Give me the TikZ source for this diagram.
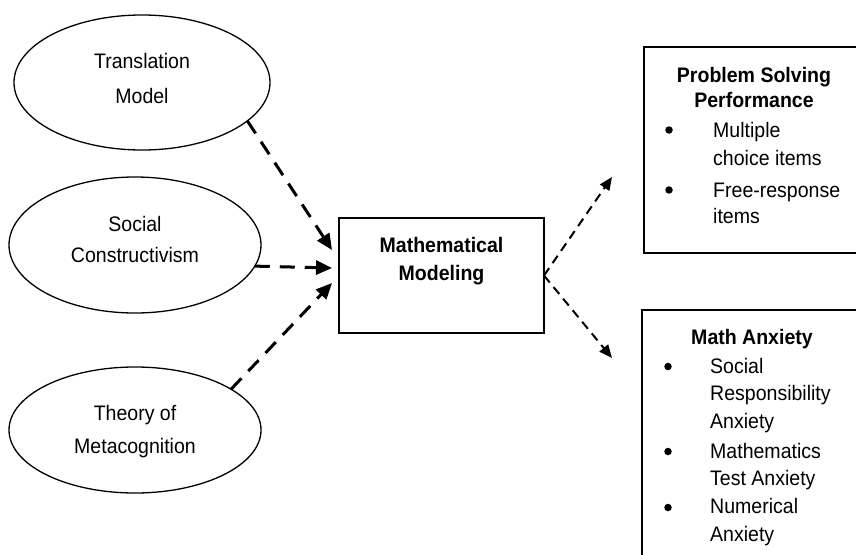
\documentclass[tikz,border=0pt]{standalone}
\usepackage{fontspec}
\setmainfont{Liberation Sans}[FakeStretch=0.93]
\usetikzlibrary{shapes.geometric,arrows.meta}
\begin{document}
\begin{tikzpicture}[x=1pt,y=-1pt,
  ell/.style={ellipse, draw, line width=1.3pt, inner sep=0pt, outer sep=0pt},
  ln/.style={anchor=base, inner sep=0pt, font=\fontsize{21}{25}\selectfont},
  lnb/.style={anchor=base, inner sep=0pt, font=\fontsize{21}{25}\selectfont\bfseries},
  lnw/.style={anchor=base west, inner sep=0pt, font=\fontsize{21}{25}\selectfont},
  frame/.style={rectangle, draw, line width=1.6pt, inner sep=0pt, outer sep=0pt},
  bul/.style={circle, fill, inner sep=0pt, minimum size=7.5pt},
  inarr/.style={line width=3pt, dash pattern=on 15pt off 10pt, -{Triangle[length=16pt,width=14pt]}},
  outarr/.style={line width=2pt, dash pattern=on 9pt off 6pt, -{Triangle[length=13pt,width=11pt]}}]
\useasboundingbox (0,0) rectangle (856,554);
\clip (0,0) rectangle (856,554);

% ellipses
\node[ell, minimum width=256pt, minimum height=135pt] (e1) at (142,82.5) {};
\node[ln] (e1a) at (142,68) {Translation};
\node[ln] (e1b) at (142,103) {Model};

\node[ell, minimum width=252pt, minimum height=136pt] (e2) at (135,245) {};
\node[ln] (e2a) at (135,231) {Social};
\node[ln] (e2b) at (135,262) {Constructivism};

\node[ell, minimum width=252pt, minimum height=126pt] (e3) at (135,430) {};
\node[ln] (e3a) at (135,420) {Theory of};
\node[ln] (e3b) at (135,453) {Metacognition};

% central box
\node[frame, minimum width=205pt, minimum height=115pt] (mm) at (441.5,275.5) {};
\node[lnb] (mma) at (441.5,252) {Mathematical};
\node[lnb] (mmb) at (441.5,280) {Modeling};

% right boxes
\node[frame, minimum width=226pt, minimum height=206pt] (pb) at (757,150) {};
\node[lnb] (pba) at (754,82) {Problem Solving};
\node[lnb] (pbb) at (754,107.5) {Performance};
\node[bul] (pbu1) at (669,130) {};
\node[lnw] (pb1) at (713,137) {Multiple};
\node[lnw] (pb2) at (713,165) {choice items};
\node[bul] (pbu2) at (669,190) {};
\node[lnw] (pb3) at (713,197) {Free-response};
\node[lnw] (pb4) at (713,223) {items};

\node[frame, minimum width=228pt, minimum height=260pt] (ma) at (756,440) {};
\node[lnb] (maa) at (752,344) {Math Anxiety};
\node[bul] (mau1) at (668,366.5) {};
\node[lnw] (ma1) at (710,373) {Social};
\node[lnw] (ma2) at (710,400.5) {Responsibility};
\node[lnw] (ma3) at (710,428) {Anxiety};
\node[bul] (mau2) at (668,451.5) {};
\node[lnw] (ma4) at (710,458) {Mathematics};
\node[lnw] (ma5) at (710,485.5) {Test Anxiety};
\node[bul] (mau3) at (668,507.5) {};
\node[lnw] (ma6) at (710,513) {Numerical};
\node[lnw] (ma7) at (710,541.5) {Anxiety};

% arrow end points
\coordinate (t1) at (332,250);
\coordinate (t2) at (332,268);
\coordinate (t3) at (332,283);
\coordinate (r1) at (612,177);
\coordinate (r2) at (612,358);

\draw[inarr] (e1.-20) -- (t1);
\draw[inarr] (e2.-10.7) -- (t2);
\draw[inarr] (e3.23.8) -- (t3);
\draw[outarr] (mm.east) -- (r1);
\draw[outarr] (mm.east) -- (r2);
\end{tikzpicture}
\end{document}
